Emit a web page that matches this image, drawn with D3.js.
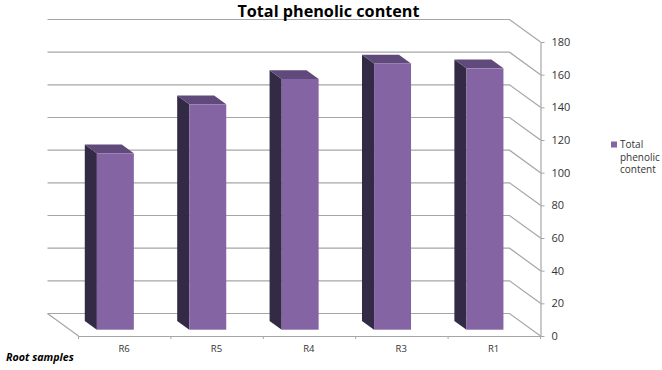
<!DOCTYPE html>
<html>
<head>
<meta charset="utf-8">
<script src="https://cdn.jsdelivr.net/npm/d3@7"></script>
<style>
  html, body { margin: 0; padding: 0; background: #fff; }
  svg { display: block; }
  text { font-family: "Open Sans", sans-serif; fill: #333; }
</style>
</head>
<body>
<div id="chart"></div>
<script>
const categories = ["R6", "R5", "R4", "R3", "R1"];
const phenolic = [108, 138, 153.5, 163, 160];
const yTicks = [0, 20, 40, 60, 80, 100, 120, 140, 160, 180];
const legendLines = ["Total", "phenolic", "content"];

const width = 662, height = 370;

// back wall of the 3d box, the front is shifted by depthX/depthY
const depthX = 31, depthY = 22.5;
const barFront = 0.72, barBack = 0.33;   // where the bar sits in the depth

const x = d3.scaleBand().domain(categories).range([47.5, 509.5]).paddingInner(0.6).paddingOuter(0.3).align(0.488);
const y = d3.scaleLinear().domain([0, 180]).range([313.5, 19.5]);

const px = (v, t) => v + depthX * t;
const py = (v, t) => v + depthY * t;

const svg = d3.select("#chart").append("svg")
    .attr("width", width)
    .attr("height", height)
    .attr("viewBox", [0, 0, width, height]);

const gridCol = "#a6a6a6";

// gridlines on back wall + diagonal along the side wall
const grid = svg.append("g").attr("fill", "none").attr("stroke", gridCol).attr("stroke-width", 1.2);
grid.selectAll("path")
    .data(yTicks)
    .join("path")
    .attr("d", d => d3.line()([
        [x.range()[0], y(d)],
        [x.range()[1], y(d)],
        [px(x.range()[1], 1), py(y(d), 1)]
    ]));

// floor left edge
grid.append("line")
    .attr("x1", x.range()[0]).attr("y1", y(0))
    .attr("x2", px(x.range()[0], 1)).attr("y2", py(y(0), 1));

// bars
const bars = svg.append("g").selectAll("g")
    .data(categories.map((c, i) => ({ c, v: phenolic[i] })))
    .join("g");

const poly = pts => d3.line()(pts) + "Z";

bars.append("path")
    .attr("fill", "#332a45")
    .attr("d", d => {
        const l = x(d.c);
        return poly([
            [px(l, barBack), py(y(d.v), barBack)],
            [px(l, barFront), py(y(d.v), barFront)],
            [px(l, barFront), py(y(0), barFront)],
            [px(l, barBack), py(y(0), barBack)]
        ]);
    });

bars.append("path")
    .attr("fill", "#604a7b")
    .attr("d", d => {
        const l = x(d.c), r = l + x.bandwidth();
        return poly([
            [px(l, barBack), py(y(d.v), barBack)],
            [px(r, barBack), py(y(d.v), barBack)],
            [px(r, barFront), py(y(d.v), barFront)],
            [px(l, barFront), py(y(d.v), barFront)]
        ]);
    });

bars.append("rect")
    .attr("fill", "#8464a3")
    .attr("x", d => px(x(d.c), barFront))
    .attr("y", d => py(y(d.v), barFront))
    .attr("width", x.bandwidth())
    .attr("height", d => y(0) - y(d.v));

// value axis on the front right corner
const yAxisX = px(x.range()[1], 1);
const yFront = y.copy().range(y.range().map(v => py(v, 1)));
const yAxis = svg.append("g")
    .attr("transform", `translate(${yAxisX},0)`)
    .call(d3.axisRight(yFront).tickValues(yTicks).tickSize(4).tickPadding(7).tickSizeOuter(0));
yAxis.select(".domain").attr("stroke", gridCol).attr("stroke-width", 1.2);
yAxis.selectAll("line").attr("stroke", gridCol);
yAxis.selectAll("text").attr("font-size", 11).attr("font-family", '"Open Sans", sans-serif').attr("fill", "#333");

// category axis along the front of the floor
const xFront = x.copy().range(x.range().map(v => px(v, 1)));
const xAxis = svg.append("g")
    .attr("transform", `translate(0,${py(y(0), 1)})`)
    .call(d3.axisBottom(xFront).tickSize(0).tickPadding(9));
xAxis.select(".domain").attr("stroke", gridCol).attr("stroke-width", 1.2);
xAxis.selectAll("text").attr("font-size", 9.5).attr("font-family", '"Open Sans", sans-serif').attr("fill", "#333");

const step = (x.range()[1] - x.range()[0]) / categories.length;
xAxis.selectAll("line.sep")
    .data(d3.range(categories.length + 1))
    .join("line")
    .attr("class", "sep")
    .attr("stroke", gridCol)
    .attr("x1", d => xFront.range()[0] + d * step)
    .attr("x2", d => xFront.range()[0] + d * step)
    .attr("y1", 0).attr("y2", 3);

// title
svg.append("text")
    .attr("x", 328.5).attr("y", 17)
    .attr("text-anchor", "middle")
    .attr("font-size", 16.2)
    .attr("font-weight", 700)
    .style("fill", "#000")
    .text("Total phenolic content");

// axis title
svg.append("text")
    .attr("x", 6).attr("y", 361)
    .attr("font-size", 10.7)
    .attr("font-weight", 700)
    .attr("font-style", "italic")
    .style("fill", "#000")
    .text("Root samples");

// legend
svg.append("rect")
    .attr("x", 611).attr("y", 141.5)
    .attr("width", 6).attr("height", 6)
    .attr("fill", "#8464a3");

svg.append("g").selectAll("text")
    .data(legendLines)
    .join("text")
    .attr("x", 620)
    .attr("y", (d, i) => 148 + i * 12.5)
    .attr("font-size", 10)
    .text(d => d);
</script>
</body>
</html>
